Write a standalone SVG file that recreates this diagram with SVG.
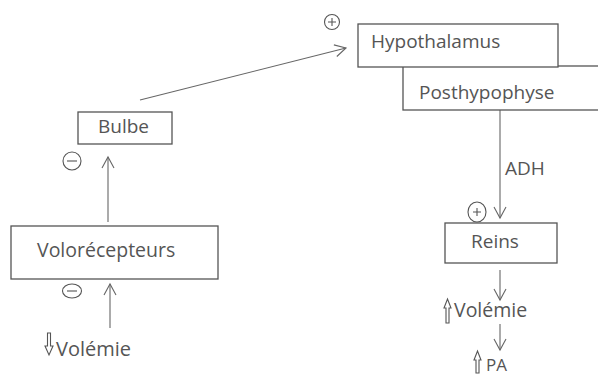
<svg xmlns="http://www.w3.org/2000/svg" width="598" height="376" viewBox="0 0 598 376">
<style>
.box{fill:#fff;stroke:#555;stroke-width:1.3}
.t{font-family:"Open Sans","Noto Sans",sans-serif;font-size:19px;fill:#555}
.c{stroke:#666;stroke-width:1.1;fill:none}
.sym{fill:none;stroke:#555;stroke-width:1.1}
.ha{fill:#fff;stroke:#555;stroke-width:1.1}
</style>
<defs>
<marker id="v" markerWidth="14" markerHeight="14" refX="12" refY="7" orient="auto" markerUnits="userSpaceOnUse">
<path d="M1,1 L12,7 L1,13" fill="none" stroke="#666" stroke-width="1.1"/>
</marker>
</defs>
<rect width="598" height="376" fill="#fff"/>
<g id="connectors">
<line class="c" x1="140" y1="100" x2="346" y2="48" marker-end="url(#v)"/>
<line class="c" x1="108" y1="222" x2="108" y2="157" marker-end="url(#v)"/>
<line class="c" x1="110" y1="328" x2="110" y2="284" marker-end="url(#v)"/>
<line class="c" x1="500" y1="110" x2="500" y2="218" marker-end="url(#v)"/>
<line class="c" x1="500" y1="270" x2="500" y2="300" marker-end="url(#v)"/>
<line class="c" x1="500" y1="324" x2="500" y2="350" marker-end="url(#v)"/>
<text class="t" x="505" y="175">ADH</text>
</g>
<g id="posthypophyse">
<rect class="box" x="403" y="66" width="200" height="44"/>
<text class="t" x="419" y="99">Posthypophyse</text>
</g>
<g id="hypothalamus">
<rect class="box" x="358" y="24" width="200" height="43"/>
<text class="t" x="371" y="48">Hypothalamus</text>
</g>
<g id="bulbe">
<rect class="box" x="78" y="112" width="94" height="32"/>
<text class="t" x="98" y="133">Bulbe</text>
</g>
<g id="volorecepteurs">
<rect class="box" x="11" y="226" width="207" height="53"/>
<text class="t" x="37" y="257" style="font-size:19.5px">Volorécepteurs</text>
</g>
<g id="reins">
<rect class="box" x="445" y="223" width="112" height="40"/>
<text class="t" x="471" y="248">Reins</text>
</g>
<g id="volemie-left">
<path class="ha" d="M47.5,333 H50.5 V346 H53 L49,355 L45,346 H47.5 Z"/>
<text class="t" x="56" y="356" style="font-size:20px">Volémie</text>
</g>
<g id="volemie-right">
<path class="ha" d="M446,323 V308 H444 L447.5,299 L451,308 H449 V323 Z"/>
<text class="t" x="454" y="317" style="font-size:19.5px">Volémie</text>
</g>
<g id="pa">
<path class="ha" d="M476,373 V360 H474 L477.5,351 L481,360 H479 V373 Z"/>
<text class="t" x="486" y="371" style="font-size:17px">PA</text>
</g>
<g id="signs">
<circle class="sym" cx="332" cy="22" r="7.5"/>
<path class="sym" d="M328,22 H336 M332,18 V26"/>
<circle class="sym" cx="72" cy="161" r="9"/>
<path class="sym" d="M67,161 H77"/>
<ellipse class="sym" cx="72" cy="291" rx="9.5" ry="7"/>
<path class="sym" d="M67,291 H77"/>
<ellipse class="sym" cx="477" cy="212" rx="9" ry="10"/>
<path class="sym" d="M473,212 H481 M477,208 V216"/>
</g>
</svg>
